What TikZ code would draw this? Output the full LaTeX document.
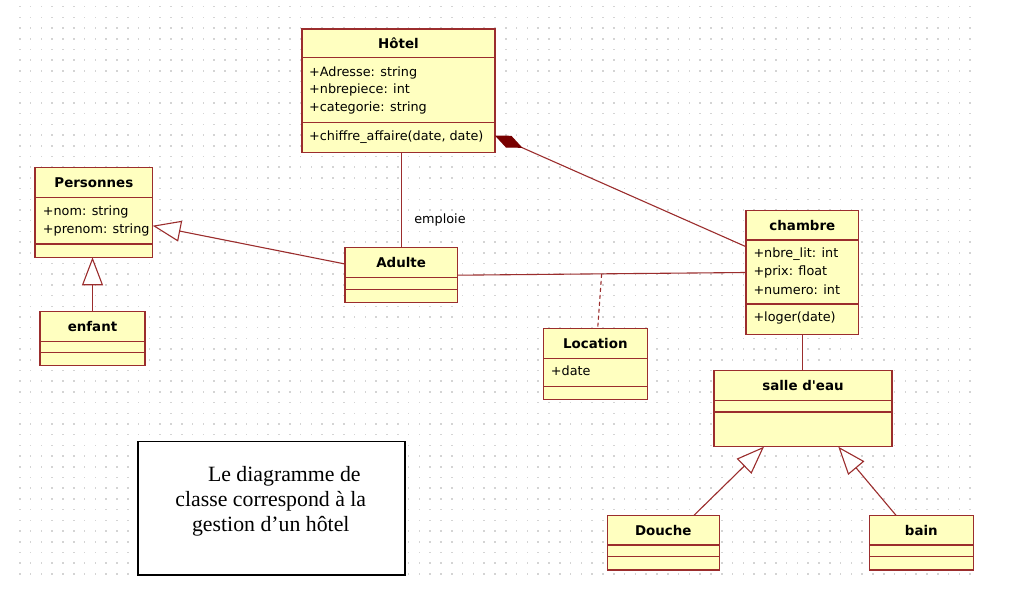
\documentclass[tikz,border=0pt]{standalone}
\usepackage{fontspec}
\newfontfamily\umlfont{DejaVu Sans}
\newfontfamily\notefont{Liberation Serif}
\usetikzlibrary{arrows.meta,calc}
\definecolor{umlfill}{RGB}{255,255,192}
\definecolor{umlline}{RGB}{155,45,45}
\definecolor{umldark}{RGB}{120,0,0}
\definecolor{dotgray}{RGB}{212,212,212}
\newcommand{\umlclass}[8]{%
  \pgfmathsetmacro\umlW{#4-#2}\pgfmathsetmacro\umlH{#5-#3}%
  \node[classbox, minimum width=\umlW pt, minimum height=\umlH pt] (#1) at (#2,#3) {};
  \draw[sepline] (#2,#6) -- (#4,#6);
  \draw[sepline] (#2,#7) -- (#4,#7);
  \node[ctitle] (#1-title) at ({(#2+#4)/2},{(#3+#6)/2}) {#8};
}
\begin{document}
\begin{tikzpicture}[x=1pt,y=-1pt,
  classbox/.style={draw=umlline, fill=umlfill, line width=1.4pt, inner sep=0pt, outer sep=0pt, anchor=north west},
  sepline/.style={draw=umlline, line width=1.4pt},
  ctitle/.style={font=\umlfont\bfseries\fontsize{13.4}{15}\selectfont, inner sep=0pt},
  cattr/.style={font=\umlfont\fontsize{12.8}{15}\selectfont, inner sep=0pt, anchor=west},
  conn/.style={draw=umlline, line width=1.1pt},
  gen/.style={conn, -{Triangle[length=28pt,width=21pt,fill=white]}},
  compo/.style={conn, {Diamond[length=30pt,width=13pt,color=umldark,fill=umldark]}-},
  assocdash/.style={conn, dash pattern=on 4pt off 3pt},
]
\useasboundingbox (0,0) rectangle (1010,593);
\fill[white] (0,0) rectangle (1010,593);
% dot grid
\foreach \i in {0,...,88}{\foreach \j in {0,...,53}{%
  \fill[dotgray] ({19+\i*10.8},{6+\j*10.7}) rectangle ++(1.5,1.5);}}

% classes
\umlclass{hotel}{302}{29}{495}{152.3}{57.3}{122.3}{Hôtel}
\node[cattr] (hotel-a1) at (309,72.7) {+Adresse: string};
\node[cattr] (hotel-a2) at (309,90) {+nbrepiece: int};
\node[cattr] (hotel-a3) at (309,107.7) {+categorie: string};
\node[cattr] (hotel-m1) at (309,136.7) {+chiffre\_affaire(date, date)};

\umlclass{pers}{35}{167.3}{152.7}{257.3}{197.3}{244}{Personnes}
\node[cattr] (pers-a1) at (42.7,212.3) {+nom: string};
\node[cattr] (pers-a2) at (42.7,230) {+prenom: string};

\umlclass{enfant}{40}{311.7}{145}{365.7}{341.7}{352.7}{enfant}

\umlclass{adulte}{345}{247.7}{457.3}{302.7}{277.3}{289.3}{Adulte}

\umlclass{location}{543.3}{328.3}{647.3}{399.3}{358.3}{386.7}{Location}
\node[cattr] (location-a1) at (550.7,371) {+date};

\umlclass{chambre}{746}{210.7}{858.7}{334.3}{240}{304}{chambre}
\node[cattr] (chambre-a1) at (753.3,254) {+nbre\_lit: int};
\node[cattr] (chambre-a2) at (753.3,271.7) {+prix: float};
\node[cattr] (chambre-a3) at (753.3,289.3) {+numero: int};
\node[cattr] (chambre-m1) at (753.3,318.3) {+loger(date)};

\umlclass{salle}{714}{370.7}{892}{446.7}{400.7}{412}{salle d\textquotesingle eau}

\umlclass{douche}{607.3}{515.3}{719.3}{570}{545}{556.7}{Douche}
\umlclass{bain}{869.3}{515.3}{973.3}{570}{545}{556.7}{bain}

% connectors
\draw[conn] (hotel.south -| adulte.north) -- (adulte.north);
\node[font=\umlfont\fontsize{12.8}{15}\selectfont, inner sep=0pt] (emploie) at (440,220) {emploie};
\draw[gen] ([yshift=11.2pt]adulte.west) -- ([yshift=-13.4pt]pers.east);
\draw[gen] (enfant.north) -- (enfant.north |- pers.south);
\draw[compo] ([yshift=-45pt]hotel.east) -- ([yshift=25.8pt]chambre.west);
\draw[conn] (adulte.east) -- (chambre.west);
\coordinate (assoc) at ($(adulte.east)!0.5!(chambre.west)$);
\draw[assocdash] (assoc) -- ([xshift=2.4pt]location.north);
\draw[conn] (chambre.south) -- (chambre.south |- salle.north);
\draw[gen] ([xshift=30.7pt]douche.north) -- ([xshift=-39pt]salle.south);
\draw[gen] ([xshift=-25.3pt]bain.north) -- ([xshift=35.3pt]salle.south);

% note
\node[draw=black, line width=1.5pt, fill=white, minimum width=267pt, minimum height=133.3pt, anchor=north west, inner sep=0pt] (note) at (137.3,440.7) {};
\node[font=\notefont\fontsize{21.8}{25}\selectfont, align=center, inner sep=0pt] (notetext) at (270.8,501.7)
  {\hspace*{27pt}Le diagramme de\\classe correspond à la\\gestion d’un hôtel};
\end{tikzpicture}
\end{document}
